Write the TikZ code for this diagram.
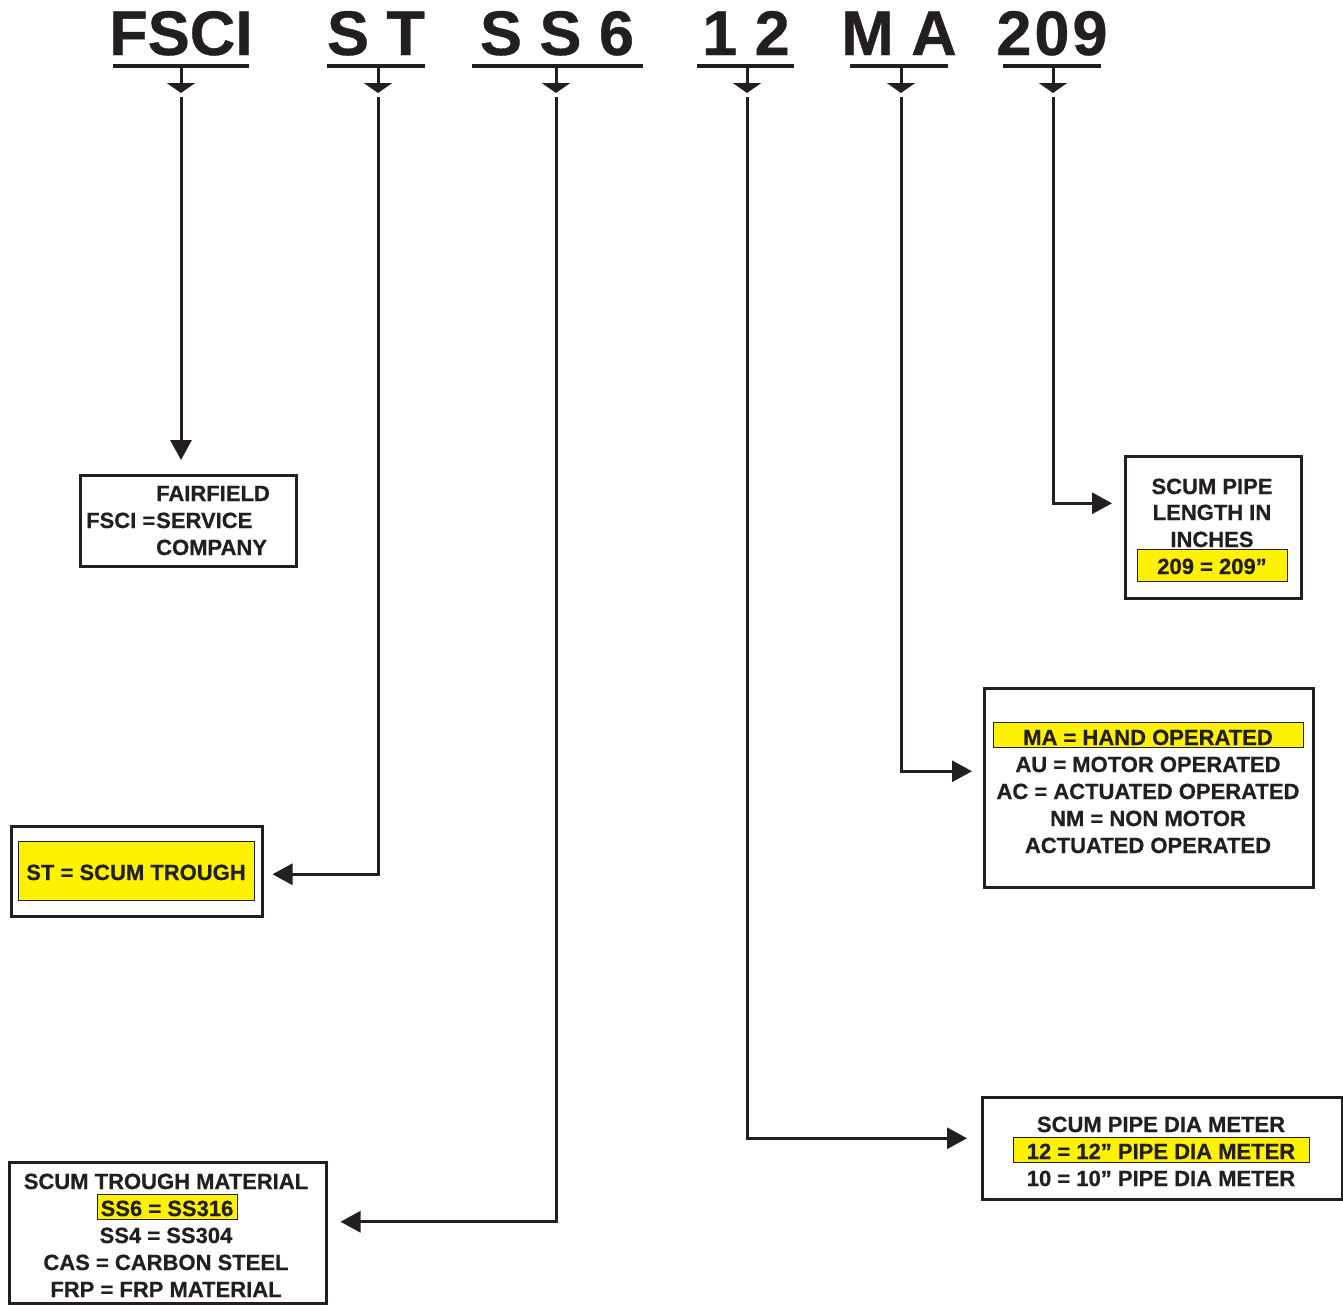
\documentclass[tikz,border=0pt]{standalone}
\usepackage{fontspec}
\setmainfont{Liberation Sans}[BoldFeatures={FakeBold=0.6}]
\usetikzlibrary{arrows.meta}
\definecolor{ink}{HTML}{231F20}
\definecolor{hl}{HTML}{FFF200}
\begin{document}
\begin{tikzpicture}[x=1pt,y=-1pt,
  hdr/.style={font=\fontsize{63}{63}\selectfont\bfseries, text=ink, anchor=base, inner sep=0pt},
  txt/.style={font=\fontsize{22}{27}\selectfont\bfseries, text=ink, anchor=base, inner sep=0pt},
  txtl/.style={txt, anchor=base west},
  ul/.style={line width=4pt, draw=ink},
  stem/.style={line width=3pt, draw=ink, -{Triangle[length=10pt,width=28pt]}},
  conn/.style={line width=3pt, draw=ink, -{Triangle[length=20pt,width=21pt]}},
  frame/.style={draw=ink, line width=2.5pt, inner sep=0pt, anchor=north west, fill=white},
  hlbox/.style={fill=hl, draw=ink, line width=0.8pt, inner sep=0pt, anchor=north west}
]
\useasboundingbox (0,0) rectangle (1343,1304);
\fill[white] (0,0) rectangle (1343,1304);

% header codes
\node[hdr] (hFSCI) at (181,55) {FSCI};
\node[hdr] (hST)   at (376,55) {S T};
\node[hdr] (hSS6)  at (557,55) {S S 6};
\node[hdr] (h12)   at (746,55) {1 2};
\node[hdr] (hMA)   at (899,55) {M A};
\node[hdr] (h209)  at (1052,55) {2\kern3pt 0\kern3pt 9};

% underlines
\draw[ul] (113,66) -- (249,66);
\draw[ul] (327,66) -- (425,66);
\draw[ul] (472,66) -- (643,66);
\draw[ul] (697,66) -- (794,66);
\draw[ul] (850,66) -- (948,66);
\draw[ul] (1003,66) -- (1101,66);

% stems
\coordinate (sFSCI) at (181,66);  \coordinate (lFSCI) at (181,97);
\coordinate (sST)   at (378,66);  \coordinate (lST)   at (378,97);
\coordinate (sSS6)  at (556,66);  \coordinate (lSS6)  at (556,97);
\coordinate (s12)   at (747,66);  \coordinate (l12)   at (747,97);
\coordinate (sMA)   at (901,66);  \coordinate (lMA)   at (901,97);
\coordinate (s209)  at (1053,66); \coordinate (l209)  at (1053,97);
\foreach \n in {FSCI,ST,SS6,12,MA,209}{
  \draw[stem] (s\n) -- ([yshift=-27pt]s\n);
}

% boxes
\node[frame, minimum width=216pt, minimum height=91pt] (bFSCI) at (79,474) {};
\node[frame, minimum width=251pt, minimum height=90pt] (bST) at (10,825) {};
\node[frame, minimum width=317pt, minimum height=141pt] (bSS6) at (8,1161) {};
\node[frame, minimum width=360pt, minimum height=102pt] (b12) at (981,1096) {};
\node[frame, minimum width=329pt, minimum height=199pt] (bMA) at (983,687) {};
\node[frame, minimum width=176pt, minimum height=142pt] (b209) at (1124,455) {};

% highlights
\node[hlbox, minimum width=236pt, minimum height=59pt] (yST) at (18,841) {};
\node[hlbox, minimum width=150pt, minimum height=32pt] (y209) at (1137,549) {};
\node[hlbox, minimum width=140pt, minimum height=25pt] (ySS6) at (97,1194) {};
\node[hlbox, minimum width=310pt, minimum height=25pt] (yMA) at (993,722) {};
\node[hlbox, minimum width=296pt, minimum height=25pt] (y12) at (1013,1137) {};

% connectors
\draw[conn, shorten >=14pt] (lFSCI) -- (lFSCI |- bFSCI.north);
\draw[conn, shorten >=9pt] (lST) |- ([yshift=-3pt]bST.east);
\draw[conn, shorten >=13pt] (lSS6) |- ([yshift=11pt]bSS6.east);
\draw[conn, shorten >=14pt] (l12) |- ([yshift=10pt]b12.west);
\draw[conn, shorten >=11pt] (lMA) |- ([yshift=16.5pt]bMA.west);
\draw[conn, shorten >=12pt] (l209) |- ([yshift=24pt]b209.west);

% FSCI box text
\node[txtl] (tF1) at (156,501) {FAIRFIELD};
\node[txtl] (tF2a) at (86,528) {FSCI =};
\node[txtl] (tF2b) at (156,528) {SERVICE};
\node[txtl] (tF3) at (156,555) {COMPANY};

% ST box text
\node[txt] (tST) at (136,880) {ST = SCUM TROUGH};

% SS6 box text
\node[txt] (tS1) at (166,1189) {SCUM TROUGH MATERIAL};
\node[txt] (tS2) at (167,1216) {SS6 = SS316};
\node[txt] (tS3) at (166,1243) {SS4 = SS304};
\node[txt] (tS4) at (166,1270) {CAS = CARBON STEEL};
\node[txt] (tS5) at (166,1297) {FRP = FRP MATERIAL};

% 12 box text
\node[txt] (t121) at (1161,1132) {SCUM PIPE DIA METER};
\node[txt] (t122) at (1161,1159) {12 = 12” PIPE DIA METER};
\node[txt] (t123) at (1161,1186) {10 = 10” PIPE DIA METER};

% MA box text
\node[txt] (tM1) at (1148,745) {MA = HAND OPERATED};
\node[txt] (tM2) at (1148,772) {AU = MOTOR OPERATED};
\node[txt] (tM3) at (1148,799) {AC = ACTUATED OPERATED};
\node[txt] (tM4) at (1148,826) {NM = NON MOTOR};
\node[txt] (tM5) at (1148,853) {ACTUATED OPERATED};

% 209 box text
\node[txt] (t2091) at (1212,494) {SCUM PIPE};
\node[txt] (t2092) at (1212,520) {LENGTH IN};
\node[txt] (t2093) at (1212,547) {INCHES};
\node[txt] (t2094) at (1212,574) {209 = 209”};
\end{tikzpicture}
\end{document}
